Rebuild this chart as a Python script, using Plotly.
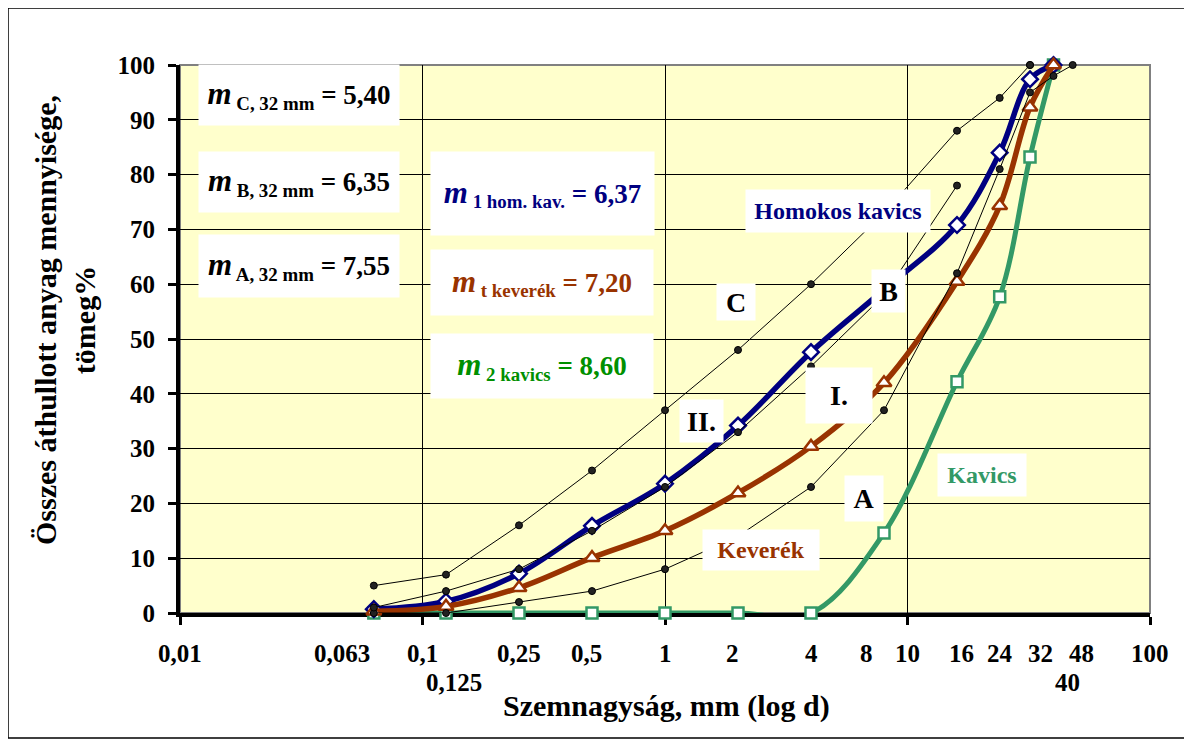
import math
import plotly.graph_objects as go

# ---------------- data ----------------
sieve_mm = [0.063, 0.125, 0.25, 0.5, 1, 2, 4, 8, 16, 24, 32, 40, 48]

homokos_kavics = [0.7, 2.1, 7.2, 15.9, 23.6, 34.2, 47.6, 59.0, 70.8, 84.0, 97.4, 100]
keverek = [0.3, 1.2, 4.6, 10.1, 15.0, 21.9, 30.4, 42.0, 60.5, 74.3, 92.3, 100]
kavics = [0, 0, 0, 0, 0, 0, 0, 14.6, 42.2, 57.7, 83.2, 100]

curve_A = [0, 0, 2, 4, 8, 14, 23, 37, 62, 81, 95, 98, 100]
curve_B = [1, 4, 8, 15, 23, 33, 45, 58, 78, None, 100]
curve_C = [5, 7, 16, 26, 37, 48, 60, 73, 88, 94, 100]

xtick_labels = ["0,01", "0,063", "0,1", "0,125", "0,25", "0,5", "1", "2", "4", "8",
                "10", "16", "24", "32", "40", "48", "100"]
xtick_values = [0.01, 0.063, 0.1, 0.125, 0.25, 0.5, 1, 2, 4, 8,
                10, 16, 24, 32, 40, 48, 100]
xtick_rows = [1, 1, 1, 2, 1, 1, 1, 1, 1, 1, 1, 1, 1, 1, 2, 1, 1]

y_title = "Összes áthullott anyag mennyisége,<br>tömeg%"
x_title = "Szemnagyság, mm (log d)"

# ---------------- style ----------------
NAVY = "#000080"
BROWN = "#993300"
SEA = "#339966"
GREEN_TXT = "#009000"
FONT = "Liberation Serif"

OFF = 8  # page body margin
W, H = 1192 - OFF, 742 - OFF
L, R, T, B = 180 - OFF, 42, 65 - OFF, 129
PW, PH = W - L - R, H - T - B


def px(x, y):
    """page pixel -> paper coordinates"""
    return (x - OFF - L) / PW, (H - B - (y - OFF)) / PH


fig = go.Figure()

fig.add_trace(go.Scatter(
    x=sieve_mm[:len(kavics)], y=kavics, mode="lines+markers",
    line=dict(color=SEA, width=5, shape="spline", smoothing=1),
    marker=dict(symbol="square", size=11, color="white", line=dict(color=SEA, width=2.5)),
    cliponaxis=False, name="Kavics"))
fig.add_trace(go.Scatter(
    x=sieve_mm[:len(homokos_kavics)], y=homokos_kavics, mode="lines+markers",
    line=dict(color=NAVY, width=5.5, shape="spline", smoothing=1),
    marker=dict(symbol="diamond", size=12, color="white", line=dict(color=NAVY, width=2.5)),
    cliponaxis=False, name="Homokos kavics"))
fig.add_trace(go.Scatter(
    x=sieve_mm[:len(keverek)], y=keverek, mode="lines+markers",
    line=dict(color=BROWN, width=5.5, shape="spline", smoothing=1),
    marker=dict(symbol="triangle-up", size=13, color="white", line=dict(color=BROWN, width=2.5)),
    cliponaxis=False, name="Keverék"))

for name, vals in (("A", curve_A), ("B", curve_B), ("C", curve_C)):
    fig.add_trace(go.Scatter(
        x=sieve_mm[:len(vals)], y=vals, mode="lines+markers", connectgaps=False,
        line=dict(color="black", width=1),
        marker=dict(symbol="circle", size=7, color="#222222", line=dict(color="black", width=1)),
        cliponaxis=False, name=name))

annotations = []

# x tick labels
row_shift = {1: -40, 2: -69}
label_xshift = {"0,063": -32, "0,125": 8, "0,5": -6, "2": -6, "8": -18, "16": 4,
                "32": 10, "40": 14, "48": 9}
for lab, val, row in zip(xtick_labels, xtick_values, xtick_rows):
    annotations.append(dict(
        x=math.log10(val), y=0, xref="x", yref="paper", text="<b>" + lab + "</b>",
        showarrow=False, yanchor="middle", xanchor="center",
        yshift=row_shift[row], xshift=label_xshift.get(lab, 0),
        font=dict(family=FONT, size=25, color="black")))

# axis titles
ax, ay = px(666, 706)
annotations.append(dict(x=ax, y=ay, xref="paper", yref="paper", text="<b>" + x_title + "</b>",
                        showarrow=False, xanchor="center", yanchor="middle",
                        font=dict(family=FONT, size=30, color="black")))
ax, ay = px(65, 320)
annotations.append(dict(x=ax, y=ay, xref="paper", yref="paper", text="<b>" + y_title + "</b>",
                        showarrow=False, textangle=-90, xanchor="center", yanchor="middle",
                        font=dict(family=FONT, size=30, color="black")))


def m_label(sub, val):
    return ("<b><i><span style='font-size:31px'>m</span></i><sub> " + sub + "</sub> = " + val + "</b>")


boxes = [
    (m_label("C, 32 mm", "5,40"), 299, 95, 200, 60, "black", 27),
    (m_label("B, 32 mm", "6,35"), 299, 182, 200, 60, "black", 27),
    (m_label("A, 32 mm", "7,55"), 299, 266, 200, 62, "black", 27),
    (m_label("1 hom. kav.", "6,37"), 542, 193, 223, 83, NAVY, 27),
    (m_label("t keverék", "7,20"), 542, 282, 222, 65, BROWN, 27),
    (m_label("2 kavics", "8,60"), 542, 366, 222, 64, GREEN_TXT, 27),
    ("<b>Homokos kavics</b>", 838, 211, 184, 42, NAVY, 24),
    ("<b>B</b>", 888, 291, 33, 42, "black", 28),
    ("<b>C</b>", 736, 302, 38, 36, "black", 28),
    ("<b>II.</b>", 701, 421, 43, 42, "black", 28),
    ("<b>I.</b>", 839, 395, 66, 55, "black", 28),
    ("<b>A</b>", 864, 498, 38, 45, "black", 28),
    ("<b>Keverék</b>", 761, 550, 116, 40, BROWN, 24),
    ("<b>Kavics</b>", 982, 475, 88, 42, SEA, 24),
]
for text, cx, cy, bw, bh, col, size in boxes:
    x, y = px(cx, cy)
    annotations.append(dict(x=x, y=y, xref="paper", yref="paper", text=text, showarrow=False,
                            xanchor="center", yanchor="middle", width=bw, height=bh,
                            bgcolor="white", borderpad=0, align="center", valign="middle",
                            font=dict(family=FONT, size=size, color=col)))

x0, y0 = px(8, 8)
x1, y1 = px(1187, 738)
shapes = [
    dict(type="rect", xref="paper", yref="paper", x0=0, y0=0, x1=1, y1=1,
         line=dict(color="#808080", width=2), layer="below"),
    dict(type="rect", xref="paper", yref="paper", x0=x0, y0=y1, x1=x1, y1=y0,
         line=dict(color="black", width=1.5), layer="below"),
]

fig.update_layout(
    width=W, height=H, margin=dict(l=L, r=R, t=T, b=B),
    paper_bgcolor="white", plot_bgcolor="#FFFFCC", showlegend=False,
    annotations=annotations, shapes=shapes,
    font=dict(family=FONT, color="black"),
)
fig.update_xaxes(
    type="log", range=[-2, 2], tickvals=[0.01, 0.1, 1, 10, 100], showticklabels=False,
    ticks="outside", ticklen=8, tickwidth=3, tickcolor="black",
    showgrid=True, gridcolor="black", gridwidth=1,
    showline=True, linewidth=4, linecolor="black", zeroline=False, layer="below traces")
fig.update_yaxes(
    range=[0, 100], dtick=10, tick0=0,
    ticks="outside", ticklen=8, tickwidth=3, tickcolor="black",
    tickfont=dict(family=FONT, size=25, color="black", weight="bold"), ticklabelstandoff=8,
    showgrid=True, gridcolor="black", gridwidth=1,
    showline=True, linewidth=4, linecolor="black", zeroline=False, layer="below traces")

fig.write_html("out.html")
